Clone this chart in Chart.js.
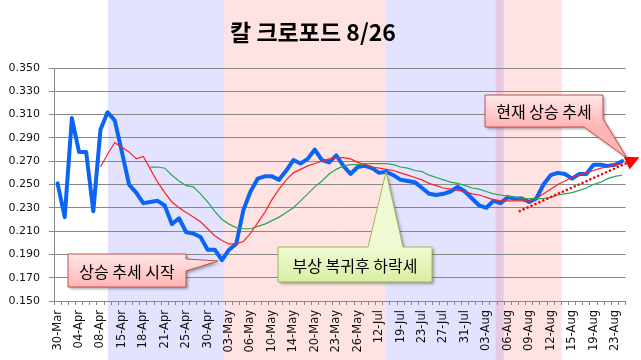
<!DOCTYPE html>
<html><head><meta charset="utf-8">
<script src="https://cdn.jsdelivr.net/npm/chart.js@4.4.1/dist/chart.umd.min.js"></script>
<style>html,body{margin:0;padding:0;background:#fff}#wrap{width:641px;height:360px}</style>
</head><body><div id="wrap"><canvas id="c" width="641" height="360"></canvas></div>
<script>
// visible date labels (one every 3 trading days)
const dateLabels = ['30-Mar','04-Apr','08-Apr','15-Apr','18-Apr','21-Apr','25-Apr','30-Apr','03-May','06-May','10-May','14-May','20-May','23-May','26-May','12-Jul','19-Jul','23-Jul','27-Jul','31-Jul','03-Aug','06-Aug','09-Aug','12-Aug','15-Aug','19-Aug','23-Aug'];
const categoryCount = 80;

const closePrice = [0.251,0.222,0.307,0.278,0.278,0.227,0.297,0.312,0.305,0.278,
  0.250,0.243,0.234,0.235,0.236,0.232,0.216,0.221,0.209,0.208,
  0.205,0.194,0.194,0.185,0.194,0.199,0.228,0.244,0.255,0.257,
  0.257,0.254,0.262,0.271,0.268,0.272,0.280,0.271,0.269,0.275,
  0.266,0.259,0.265,0.266,0.264,0.260,0.261,0.258,0.254,0.253,
  0.252,0.247,0.242,0.241,0.242,0.244,0.248,0.244,0.238,0.232,
  0.230,0.236,0.234,0.239,0.238,0.238,0.235,0.238,0.250,0.258,
  0.260,0.259,0.255,0.259,0.259,0.267,0.267,0.266,0.267,0.270];

const maShort = [null,null,null,null,null,null,0.265,0.276,0.286,0.282,
  0.278,0.272,0.274,0.263,0.252,0.243,0.235,0.230,0.226,0.222,
  0.218,0.212,0.206,0.202,0.199,0.199,0.201,0.208,0.217,0.226,
  0.237,0.246,0.254,0.260,0.263,0.266,0.268,0.270,0.272,0.273,
  0.273,0.272,0.269,0.267,0.265,0.264,0.263,0.262,0.260,0.258,
  0.256,0.254,0.251,0.249,0.247,0.246,0.245,0.244,0.242,0.241,
  0.239,0.237,0.236,0.236,0.236,0.236,0.236,0.238,0.242,0.246,
  0.250,0.253,0.256,0.258,0.260,0.262,0.264,0.265,0.267,0.268];

const maLong = [null,null,null,null,null,null,null,null,null,null,
  null,null,null,0.265,0.265,0.264,0.258,0.253,0.249,0.248,
  0.242,0.235,0.227,0.220,0.216,0.213,0.212,0.212,0.214,0.216,
  0.219,0.222,0.226,0.230,0.236,0.242,0.248,0.253,0.259,0.263,
  0.266,0.267,0.267,0.268,0.268,0.268,0.268,0.267,0.265,0.264,
  0.262,0.261,0.258,0.256,0.254,0.252,0.251,0.249,0.247,0.246,
  0.244,0.242,0.241,0.240,0.239,0.238,0.238,0.238,0.238,0.239,
  0.241,0.242,0.243,0.245,0.247,0.250,0.252,0.255,0.257,0.258];

const categories = Array.from({length: categoryCount}, (_, i) => i % 3 === 0 ? dateLabels[i / 3] : '');

// background period bands, in category-index units
const bands = [
  {from: 7.05, to: 23.34, color: 'rgba(0,0,255,0.11)'},
  {from: 23.34, to: 45.93, color: 'rgba(255,0,0,0.11)'},
  {from: 45.93, to: 62.43, color: 'rgba(0,0,255,0.11)'},
  {from: 61.3, to: 70.55, color: 'rgba(255,0,0,0.11)'}
];
// dotted trend arrow (index, value)
const trendStart = [64.67, 0.2272];
const trendEnd = [79.64, 0.2684];

const bandPlugin = {
  id: 'bands',
  beforeDraw(chart) {
    const ctx = chart.ctx, x = chart.scales.x;
    ctx.save();
    ctx.fillStyle = '#fff';
    ctx.fillRect(0, 0, chart.width, chart.height);
    bands.forEach(b => {
      const a = x.getPixelForValue(b.from), e = x.getPixelForValue(b.to);
      ctx.fillStyle = b.color;
      ctx.fillRect(a, 0, e - a, chart.height);
    });
    ctx.restore();
  }
};

function poly(ctx, pts) {
  ctx.beginPath();
  ctx.moveTo(pts[0][0], pts[0][1]);
  for (let i = 1; i < pts.length; i++) ctx.lineTo(pts[i][0], pts[i][1]);
  ctx.closePath();
}
function callout(ctx, pts, box, fillTop, fillBot, stroke, text) {
  const g = ctx.createLinearGradient(0, box[1], 0, box[3]);
  g.addColorStop(0, fillTop); g.addColorStop(1, fillBot);
  ctx.save();
  ctx.shadowColor = 'rgba(0,0,0,0.35)';
  ctx.shadowBlur = 3; ctx.shadowOffsetX = 2; ctx.shadowOffsetY = 2;
  poly(ctx, pts);
  ctx.fillStyle = g; ctx.fill();
  ctx.restore();
  ctx.save();
  poly(ctx, pts);
  ctx.lineWidth = 1; ctx.strokeStyle = stroke; ctx.stroke();
  ctx.fillStyle = '#000';
  ctx.font = '16px "Noto Sans CJK KR"';
  ctx.textAlign = 'center'; ctx.textBaseline = 'middle';
  ctx.fillText(text, (box[0] + box[2]) / 2, (box[1] + box[3]) / 2 + 1);
  ctx.restore();
}

const notePlugin = {
  id: 'notes',
  afterDraw(chart) {
    const ctx = chart.ctx, x = chart.scales.x, y = chart.scales.y;
    // trend arrow
    const x0 = x.getPixelForValue(trendStart[0]), y0 = y.getPixelForValue(trendStart[1]);
    const x1 = x.getPixelForValue(trendEnd[0]), y1 = y.getPixelForValue(trendEnd[1]);
    ctx.save();
    ctx.strokeStyle = '#FF0000'; ctx.lineWidth = 2.6; ctx.lineCap = 'round';
    ctx.setLineDash([0.1, 4.2]);
    ctx.beginPath(); ctx.moveTo(x0, y0); ctx.lineTo(x1, y1); ctx.stroke();
    ctx.setLineDash([]);
    const ang = Math.atan2(y1 - y0, x1 - x0);
    const L = 14, W = 7;
    const tx = x1 + Math.cos(ang) * L, ty = y1 + Math.sin(ang) * L;
    const nx = -Math.sin(ang), ny = Math.cos(ang);
    ctx.fillStyle = '#FF0000';
    ctx.beginPath();
    ctx.moveTo(tx, ty);
    ctx.lineTo(x1 + nx * W, y1 + ny * W);
    ctx.lineTo(x1 - nx * W, y1 - ny * W);
    ctx.closePath(); ctx.fill();
    ctx.restore();

    // callout 1: 상승 추세 시작
    let b = [68, 254, 186, 287];
    callout(ctx, [[b[0],b[1]],[b[2],b[1]],[b[2],259],[218,261],[b[2],271],[b[2],b[3]],[b[0],b[3]]],
      b, '#FFE8E8', '#FFB4B4', '#C0504D', '상승 추세 시작');
    // callout 2: 부상 복귀후 하락세
    b = [278, 247, 432, 282];
    callout(ctx, [[b[0],b[1]],[368,b[1]],[386,172],[403,b[1]],[b[2],b[1]],[b[2],b[3]],[b[0],b[3]]],
      b, '#F0F9D4', '#D9EEA2', '#9BBB59', '부상 복귀후 하락세');
    // callout 3: 현재 상승 추세
    b = [485, 95, 603, 127];
    callout(ctx, [[b[0],b[1]],[b[2],b[1]],[b[2],119],[627,158],[584,b[3]],[b[0],b[3]]],
      b, '#FFE8E8', '#FFB4B4', '#C0504D', '현재 상승 추세');
  }
};

new Chart(document.getElementById('c'), {
  type: 'line',
  data: {
    labels: categories,
    datasets: [
      {data: closePrice, borderColor: '#0A64F5', borderWidth: 4, pointRadius: 0, tension: 0, borderJoinStyle: 'round', borderCapStyle: 'round', order: 3},
      {data: maShort, borderColor: '#FF2020', borderWidth: 1.2, pointRadius: 0, tension: 0, order: 2},
      {data: maLong, borderColor: '#2AA55A', borderWidth: 1.2, pointRadius: 0, tension: 0, order: 1}
    ]
  },
  options: {
    responsive: false,
    animation: false,
    layout: {padding: {left: 0, right: 15, top: 0, bottom: 0}},
    plugins: {
      legend: {display: false},
      tooltip: {enabled: false},
      title: {
        display: true,
        text: '칼 크로포드 8/26',
        color: '#000',
        font: {family: '"Noto Sans CJK KR"', size: 23, weight: 'bold'},
        padding: {top: 18, bottom: 22.4}
      }
    },
    scales: {
      x: {
        offset: true,
        grid: {display: true, offset: true, drawOnChartArea: false, drawTicks: true, tickLength: 4, color: '#888'},
        border: {display: true, color: '#888'},
        ticks: {autoSkip: false, maxRotation: 90, minRotation: 90, padding: 5, color: '#111',
          font: {family: '"DejaVu Sans"', size: 11.5}},
        afterFit(s) { s.height = 59; }
      },
      y: {
        min: 0.15, max: 0.35,
        grid: {color: '#888', drawTicks: true, tickLength: 5},
        border: {display: true, color: '#888'},
        ticks: {stepSize: 0.02, padding: 9, color: '#111',
          font: {family: '"DejaVu Sans"', size: 11},
          callback: v => v.toFixed(3)},
        afterFit(s) { s.width = 54; }
      }
    }
  },
  plugins: [bandPlugin, notePlugin]
});
</script></body></html>
